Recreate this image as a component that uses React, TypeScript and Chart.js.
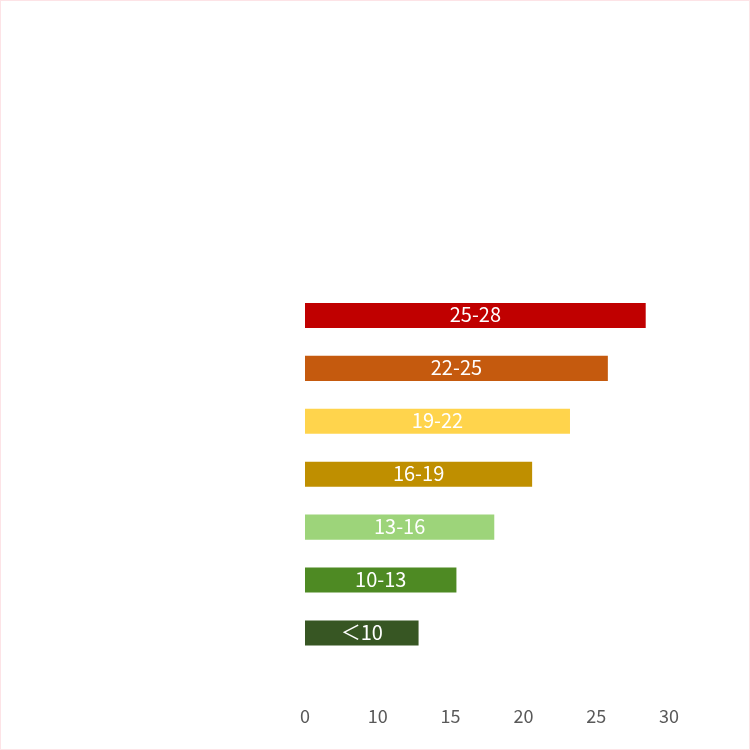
import React, { useEffect, useRef } from "react";
import { Chart, registerables } from "chart.js";

Chart.register(...registerables);

const categories = ["25-28", "22-25", "19-22", "16-19", "13-16", "10-13", "＜10"];
const values = [28.4, 25.8, 23.2, 20.6, 18.0, 15.4, 12.8];
const barColors = ["#C00000", "#C55A0E", "#FFD44C", "#BF8F00", "#9DD47A", "#4E8A23", "#375623"];
const tickValues = [5, 10, 15, 20, 25, 30];
const tickLabels = ["0", "10", "15", "20", "25", "30"];

const FONT = "'Noto Sans CJK SC', 'Noto Sans', sans-serif";

// white range label in the middle of each bar
const barLabels = {
  id: "barLabels",
  afterDatasetsDraw(chart: Chart) {
    const ctx = chart.ctx;
    const meta = chart.getDatasetMeta(0);
    const left = chart.chartArea.left;
    ctx.save();
    ctx.fillStyle = "#ffffff";
    ctx.font = `20px ${FONT}`;
    ctx.textAlign = "center";
    ctx.textBaseline = "middle";
    meta.data.forEach((el: any, i: number) => {
      const start = Math.max(el.base, left);
      ctx.fillText(categories[i], (start + el.x) / 2, el.y - 1);
    });
    ctx.restore();
  },
};

export default function App() {
  const canvasRef = useRef<HTMLCanvasElement>(null);
  const chartRef = useRef<Chart | null>(null);

  useEffect(() => {
    document.body.style.margin = "0";
    if (!canvasRef.current) return;
    const ctx = canvasRef.current.getContext("2d");
    if (!ctx) return;

    if (chartRef.current) chartRef.current.destroy();

    chartRef.current = new Chart(ctx, {
      type: "bar",
      data: {
        labels: categories,
        datasets: [
          {
            data: values,
            backgroundColor: barColors,
            borderWidth: 0,
            categoryPercentage: 1,
            barPercentage: 0.473,
          },
        ],
      },
      options: {
        indexAxis: "y",
        animation: false,
        responsive: true,
        maintainAspectRatio: false,
        layout: {
          padding: { left: 304, right: 80, top: 288, bottom: -24 },
        },
        scales: {
          y: {
            type: "category",
            display: false,
          },
          x: {
            type: "linear",
            min: 5,
            max: 30,
            afterBuildTicks: (axis) => {
              axis.ticks = tickValues.map((v) => ({ value: v }));
            },
            ticks: {
              padding: 46,
              color: "#595959",
              font: { family: FONT, size: 18 },
              callback: (value) => {
                const i = tickValues.indexOf(Number(value));
                return i >= 0 ? tickLabels[i] : "";
              },
            },
            grid: { display: false, drawTicks: false },
            border: { display: false },
          },
        },
        plugins: {
          legend: { display: false },
          tooltip: { enabled: false },
        },
      },
      plugins: [barLabels],
    });

    return () => {
      if (chartRef.current) {
        chartRef.current.destroy();
        chartRef.current = null;
      }
    };
  }, []);

  return (
    <div
      style={{
        position: "fixed",
        left: 0,
        top: 0,
        width: 750,
        height: 750,
        boxSizing: "border-box",
        border: "1px solid #fde3e6",
        background: "#ffffff",
      }}
    >
      <div style={{ position: "relative", width: "100%", height: "100%" }}>
        <canvas ref={canvasRef} />
      </div>
    </div>
  );
}
